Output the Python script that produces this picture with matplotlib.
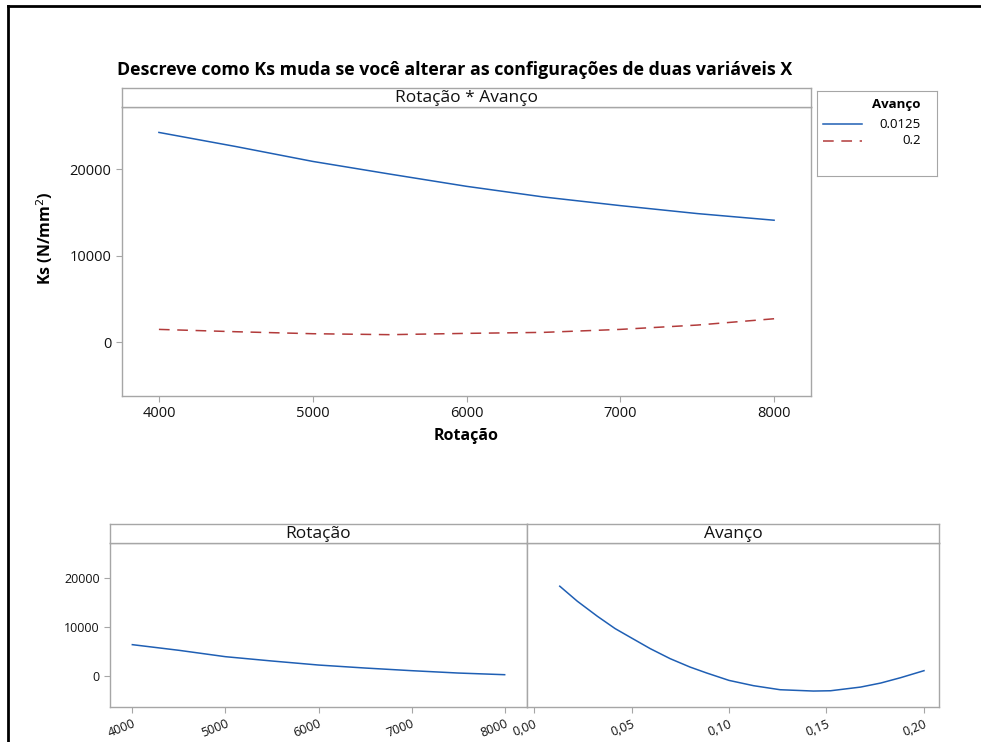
import matplotlib
matplotlib.use("Agg")
import matplotlib.pyplot as plt
from matplotlib.lines import Line2D

plt.rcParams['font.family'] = ['Open Sans', 'DejaVu Sans']

# Interaction plot: Ks vs Rotação for each Avanço level
rotacao = [4000, 4500, 5000, 5500, 6000, 6500, 7000, 7500, 8000]
ks_avanco_0125 = [24230, 22600, 20880, 19420, 18000, 16770, 15770, 14850, 14080]
ks_avanco_02 = [1460, 1190, 960, 850, 1000, 1115, 1460, 1960, 2690]

# Main effect of Rotação
ks_rotacao = [6460, 5310, 4010, 3130, 2310, 1700, 1160, 680, 340]

# Main effect of Avanço
avanco = [0.0132, 0.0222, 0.0325, 0.0416, 0.05, 0.0596, 0.0698, 0.08, 0.0886,
          0.10, 0.1126, 0.1262, 0.1433, 0.1521, 0.1675, 0.1778, 0.188, 0.20]
ks_avanco = [18370, 15310, 12240, 9730, 7820, 5650, 3610, 1900, 680,
             -820, -1900, -2720, -2990, -2930, -2180, -1360, -270, 1160]

legend_labels = ['0.0125', '0.2']
y_ticks = [0, 10000, 20000]
rot_ticks = [4000, 5000, 6000, 7000, 8000]
av_ticks = [0.00, 0.05, 0.10, 0.15, 0.20]
av_ticklabels = ['0,00', '0,05', '0,10', '0,15', '0,20']

BLUE = '#1f5fb4'
RED = '#b23b3b'
GRID = '#a6a6a6'
YLIM = (-6240, 27170)
XLIM_ROT = (3760, 8240)
XLIM_AV = (-0.0036, 0.2077)

W, H = 981, 742
fig = plt.figure(figsize=(W / 100, H / 100), dpi=100)


def frac(x0, y0, x1, y1):
    return [x0 / W, 1 - y1 / H, (x1 - x0) / W, (y1 - y0) / H]


def style_axes(ax):
    for s in ax.spines.values():
        s.set_color(GRID)
        s.set_linewidth(1.0)
    ax.tick_params(color=GRID, length=4, width=0.8, labelcolor='#111111')


def strip(x0, x1, y0, y1, text):
    sa = fig.add_axes(frac(x0, y0, x1, y1))
    sa.set_xticks([])
    sa.set_yticks([])
    for s in sa.spines.values():
        s.set_color(GRID)
        s.set_linewidth(1.0)
    sa.text(0.5, 0.45, text, ha='center', va='center', fontsize=12.5, color='#111111')
    return sa


def slant(ax):
    for t in ax.get_xticklabels():
        t.set_rotation(22)
        t.set_ha('right')
        t.set_rotation_mode('anchor')


# outer frame of the page
fig.add_artist(Line2D([8 / W, 8 / W], [0, 1 - 6 / H], color='black', lw=2))
fig.add_artist(Line2D([8 / W, 1], [1 - 6 / H, 1 - 6 / H], color='black', lw=2))

fig.text(117 / W, 1 - 70 / H,
         'Descreve como Ks muda se você alterar as configurações de duas variáveis X',
         fontsize=12.8, fontweight='bold', ha='left', va='center')

# ---- interaction panel ----
ax = fig.add_axes(frac(122, 107, 811, 396))
style_axes(ax)
ax.plot(rotacao, ks_avanco_0125, color=BLUE, lw=1.1)
ax.plot(rotacao, ks_avanco_02, color=RED, lw=1.1, dashes=(7, 5))
ax.set_xlim(*XLIM_ROT)
ax.set_ylim(*YLIM)
ax.set_xticks(rot_ticks)
ax.set_yticks(y_ticks)
ax.tick_params(labelsize=10.5)
ax.set_xlabel('Rotação', fontsize=11.5, fontweight='bold', labelpad=5)
ax.set_ylabel('Ks (N/mm$^2$)', fontsize=11.5, fontweight='bold')
ax.yaxis.set_label_coords(-0.097, 0.545)
strip(122, 811, 88, 107, 'Rotação * Avanço')

# legend box
lg = fig.add_axes(frac(817, 91, 937, 176))
lg.set_xlim(817, 937)
lg.set_ylim(176, 91)
lg.set_xticks([])
lg.set_yticks([])
for s in lg.spines.values():
    s.set_color(GRID)
lg.text(921, 104, 'Avanço', ha='right', va='center', fontsize=9.5, fontweight='bold')
lg.plot([823, 862], [124, 124], color=BLUE, lw=1.1)
lg.plot([823, 862], [141, 141], color=RED, lw=1.1, dashes=(7, 5))
lg.text(921, 124, legend_labels[0], ha='right', va='center', fontsize=9.5)
lg.text(921, 141, legend_labels[1], ha='right', va='center', fontsize=9.5)

# ---- main effect panels ----
axl = fig.add_axes(frac(110, 543, 527, 707))
style_axes(axl)
axl.plot(rotacao, ks_rotacao, color=BLUE, lw=1.1)
axl.set_xlim(*XLIM_ROT)
axl.set_ylim(*YLIM)
axl.set_xticks(rot_ticks)
axl.set_yticks(y_ticks)
axl.tick_params(labelsize=9)
slant(axl)
strip(110, 527, 524, 543, 'Rotação')

axr = fig.add_axes(frac(527, 543, 939, 707))
style_axes(axr)
axr.plot(avanco, ks_avanco, color=BLUE, lw=1.1)
axr.set_xlim(*XLIM_AV)
axr.set_ylim(*YLIM)
axr.set_xticks(av_ticks)
axr.set_xticklabels(av_ticklabels)
axr.set_yticks([])
axr.tick_params(labelsize=9)
slant(axr)
strip(527, 939, 524, 543, 'Avanço')

fig.savefig('out.png', dpi=100)
